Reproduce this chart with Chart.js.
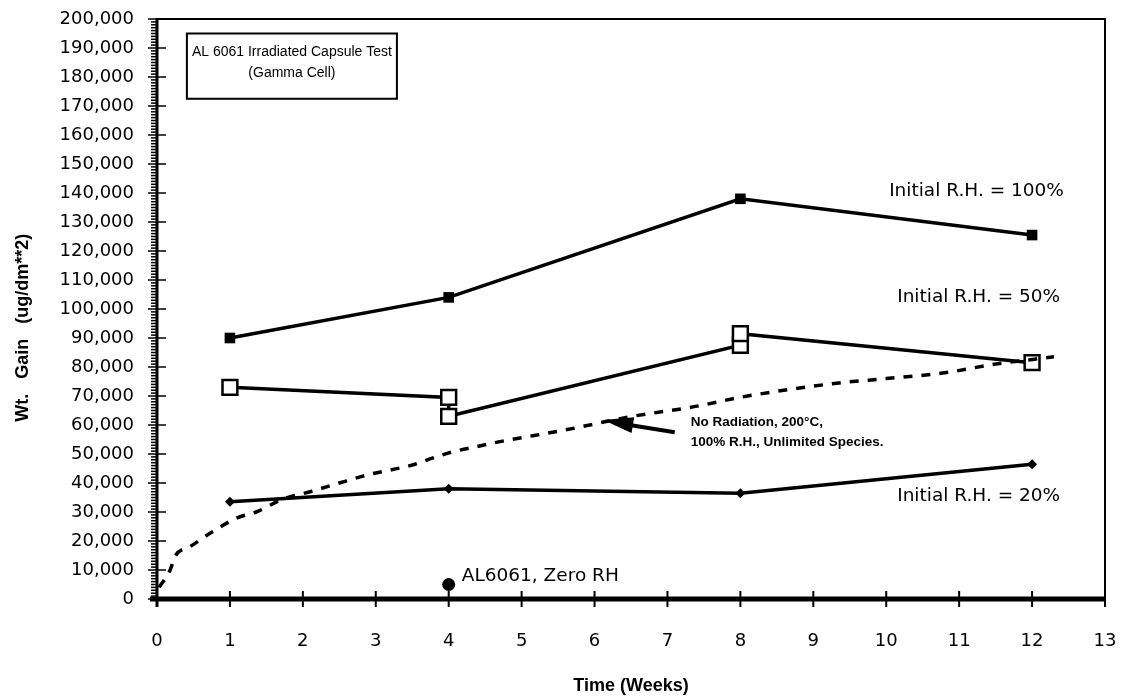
<!DOCTYPE html>
<html>
<head>
<meta charset="utf-8">
<script src="https://cdn.jsdelivr.net/npm/chart.js@4.4.1/dist/chart.umd.min.js"></script>
<style>
html,body{margin:0;padding:0;background:#fff;}
#wrap{width:1130px;height:697px;}
</style>
</head>
<body>
<div id="wrap"><canvas id="c" width="1130" height="697"></canvas></div>
<script>
// ---- data ----
const xTicks = [0,1,2,3,4,5,6,7,8,9,10,11,12,13];
const weeks100 = [1, 4, 8, 12];
const gain100  = [90000, 104000, 138000, 125500];
const weeks50  = [1, 4, 4, 8, 8, 12];
const gain50   = [73000, 69500, 63000, 87500, 91500, 81500];
const weeks20  = [1, 4, 8, 12];
const gain20   = [33500, 38000, 36500, 46500];
const weeksZero = [4];
const gainZero  = [5000];
const weeksNoRad = [0.03,0.18,0.25,0.45,0.75,1.1,1.36,1.73,2.1,2.5,2.92,3.47,3.83,4.05,4.47,4.65,5.6,6.5,6.77,7.3,8.1,9.35,10,10.8,11.5,12.3];
const gainNoRad  = [4000,10000,14800,18000,23000,28000,30000,34500,37000,40000,43000,46000,49000,50700,53000,54000,58300,62900,64000,66000,70000,74500,76000,78000,81000,83500];

const pts = (xs, ys) => xs.map((x, i) => ({x: x, y: ys[i]}));

const FONT = '"DejaVu Sans", sans-serif';
const AFONT = '"Liberation Sans", Arial, sans-serif';

const decor = {
  id: 'decor',
  beforeDatasetsDraw(chart) {
    const {ctx, chartArea: a, scales: {x, y}} = chart;
    ctx.save();
    ctx.strokeStyle = '#000';
    ctx.fillStyle = '#000';
    // top & right frame
    ctx.lineWidth = 2;
    ctx.beginPath();
    ctx.moveTo(a.left, a.top); ctx.lineTo(a.right, a.top); ctx.lineTo(a.right, a.bottom);
    ctx.stroke();
    // y minor ticks
    ctx.lineWidth = 1.5;
    for (let v = 0; v <= 200000; v += 1000) {
      const py = y.getPixelForValue(v);
      ctx.beginPath();
      if (v % 10000 === 0) { ctx.moveTo(a.left - 9, py); ctx.lineTo(a.left + 9, py); }
      else { ctx.moveTo(a.left - 6, py); ctx.lineTo(a.left, py); }
      ctx.stroke();
    }
    // y axis line
    ctx.lineWidth = 3;
    ctx.beginPath(); ctx.moveTo(a.left, a.top - 1); ctx.lineTo(a.left, a.bottom + 8); ctx.stroke();
    // x ticks
    ctx.lineWidth = 2;
    xTicks.forEach(t => {
      const px = x.getPixelForValue(t);
      ctx.beginPath(); ctx.moveTo(px, a.bottom - 8); ctx.lineTo(px, a.bottom + 8); ctx.stroke();
    });
    // x axis line
    ctx.lineWidth = 5;
    ctx.beginPath(); ctx.moveTo(a.left - 7, a.bottom); ctx.lineTo(a.right, a.bottom); ctx.stroke();

    // title box
    ctx.lineWidth = 2;
    const bx0 = x.getPixelForValue(0.41), bx1 = x.getPixelForValue(3.29);
    const by0 = y.getPixelForValue(195000), by1 = y.getPixelForValue(172500);
    ctx.strokeRect(bx0, by0, bx1 - bx0, by1 - by0);
    ctx.font = '14px ' + AFONT;
    ctx.textAlign = 'center'; ctx.textBaseline = 'middle';
    const bcx = (bx0 + bx1) / 2;
    ctx.fillText('AL 6061 Irradiated Capsule Test', bcx, y.getPixelForValue(188500));
    ctx.fillText('(Gamma Cell)', bcx, y.getPixelForValue(181200));

    // series labels
    ctx.font = '18.5px ' + FONT;
    ctx.textAlign = 'left';
    ctx.fillText('Initial R.H. = 100%', x.getPixelForValue(10.04), y.getPixelForValue(140500));
    ctx.fillText('Initial R.H. = 50%', x.getPixelForValue(10.15), y.getPixelForValue(104200));
    ctx.fillText('Initial R.H. = 20%', x.getPixelForValue(10.15), y.getPixelForValue(35600));
    ctx.font = '18.5px ' + FONT;
    ctx.fillText('AL6061, Zero RH', x.getPixelForValue(4.18), y.getPixelForValue(8000));

    // no-radiation note + arrow
    ctx.font = 'bold 13.5px ' + AFONT;
    ctx.fillText('No Radiation, 200\u00B0C,', x.getPixelForValue(7.32), y.getPixelForValue(60900));
    ctx.fillText('100% R.H., Unlimited Species.', x.getPixelForValue(7.32), y.getPixelForValue(54000));
    const tx = x.getPixelForValue(6.12), ty = y.getPixelForValue(61700);
    const sx = x.getPixelForValue(7.1), sy = y.getPixelForValue(57500);
    ctx.lineWidth = 4;
    ctx.beginPath(); ctx.moveTo(sx, sy); ctx.lineTo(tx + 20, ty + 4); ctx.stroke();
    const ang = Math.atan2(sy - ty, sx - tx);
    ctx.beginPath();
    ctx.moveTo(tx, ty);
    ctx.lineTo(tx + 30 * Math.cos(ang) - 8 * Math.sin(ang), ty + 30 * Math.sin(ang) + 8 * Math.cos(ang));
    ctx.lineTo(tx + 30 * Math.cos(ang) + 8 * Math.sin(ang), ty + 30 * Math.sin(ang) - 8 * Math.cos(ang));
    ctx.closePath(); ctx.fill();

    // titles
    ctx.font = 'bold 18px ' + AFONT;
    ctx.textAlign = 'center';
    ctx.fillText('Time (Weeks)', 631, 686);
    ctx.save();
    ctx.translate(23, y.getPixelForValue(93500));
    ctx.rotate(-Math.PI / 2);
    ctx.fillText('Wt.   Gain   (ug/dm**2)', 0, 0);
    ctx.restore();
    ctx.restore();
  }
};

new Chart(document.getElementById('c'), {
  type: 'line',
  data: {
    datasets: [
      { label: 'No Radiation', data: pts(weeksNoRad, gainNoRad), borderColor: '#000', borderWidth: 3.5,
        borderDash: [9, 9], pointRadius: 0, cubicInterpolationMode: 'monotone', fill: false },
      { label: 'Initial R.H. = 100%', data: pts(weeks100, gain100), borderColor: '#000', backgroundColor: '#000',
        borderWidth: 3.5, pointStyle: 'rect', pointRadius: 7.5, pointBorderWidth: 0, fill: false },
      { label: 'Initial R.H. = 50%', data: pts(weeks50, gain50), borderColor: '#000', backgroundColor: '#fff',
        borderWidth: 3.5, pointStyle: 'rect', pointRadius: 10.5, pointBorderWidth: 2.5, pointBackgroundColor: '#fff', fill: false },
      { label: 'Initial R.H. = 20%', data: pts(weeks20, gain20), borderColor: '#000', backgroundColor: '#000',
        borderWidth: 3.5, pointStyle: 'rectRot', pointRadius: 5, pointBorderWidth: 0, fill: false },
      { label: 'AL6061, Zero RH', data: pts(weeksZero, gainZero), borderColor: '#000', backgroundColor: '#000',
        showLine: false, pointStyle: 'circle', pointRadius: 6.5, pointBorderWidth: 0 }
    ]
  },
  options: {
    responsive: false,
    devicePixelRatio: 1,
    animation: false,
    clip: false,
    layout: { padding: { top: 19, right: 25, left: 0, bottom: 0 } },
    plugins: { legend: { display: false }, tooltip: { enabled: false } },
    scales: {
      x: {
        type: 'linear', min: 0, max: 13,
        afterFit(s) { s.height = 98; s.paddingLeft = 0; s.paddingRight = 0; },
        afterBuildTicks(s) { s.ticks = xTicks.map(v => ({value: v})); },
        grid: { display: false }, border: { display: false },
        ticks: { color: '#000', font: { family: FONT, size: 18 }, padding: 24, autoSkip: false,
                 maxRotation: 0, callback: v => String(v) }
      },
      y: {
        min: 0, max: 200000,
        afterFit(s) { s.width = 157; s.paddingTop = 0; s.paddingBottom = 0; },
        grid: { display: false }, border: { display: false },
        ticks: { stepSize: 10000, color: '#000', font: { family: FONT, size: 18 }, padding: 15,
                 callback: v => v.toLocaleString('en-US') }
      }
    }
  },
  plugins: [decor]
});
</script>
</body>
</html>
